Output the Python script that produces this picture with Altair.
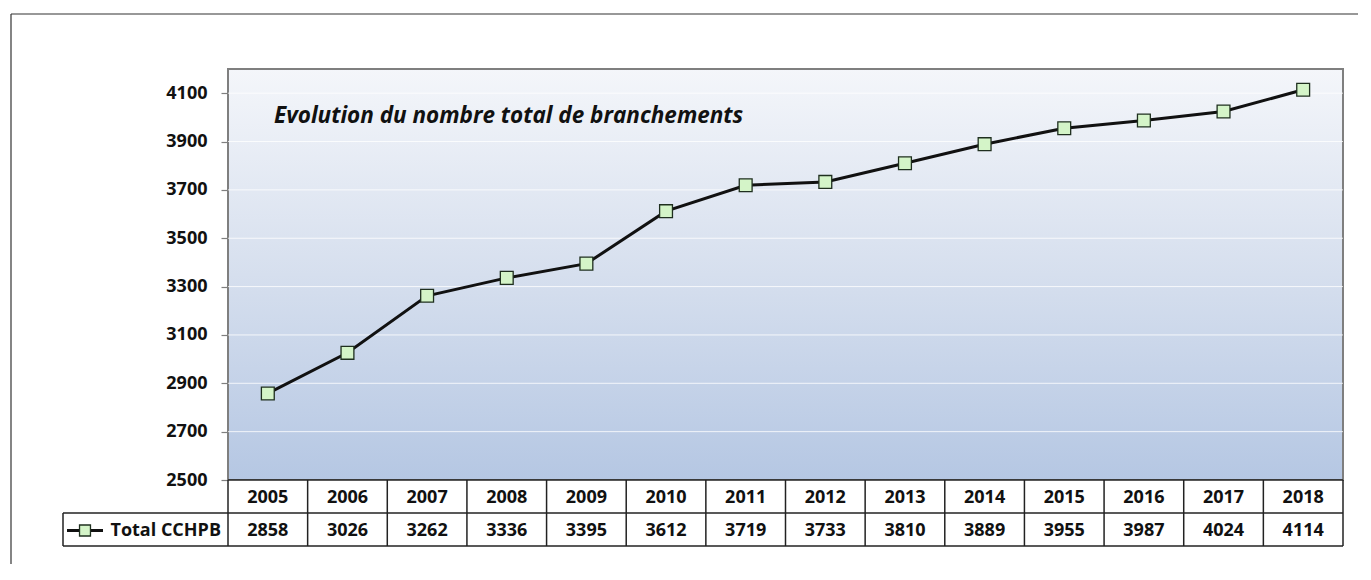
import altair as alt
import pandas as pd

years = list(range(2005, 2019))
values = [2858, 3026, 3262, 3336, 3395, 3612, 3719, 3733, 3810, 3889, 3955, 3987, 4024, 4114]
y_ticks = [2500, 2700, 2900, 3100, 3300, 3500, 3700, 3900, 4100]
series_name = "Total CCHPB"
chart_title = "Evolution du nombre total de branchements"

W, H = 1115, 411
ROW = 33
FONT = "Open Sans"
FS = 18

df = pd.DataFrame({"year": years, "value": values})
bounds = pd.DataFrame({"b": [years[0] - 0.5] + [y + 0.5 for y in years]})
grid = pd.DataFrame({"t": y_ticks[1:]})
one = pd.DataFrame({"a": [0]})

xs = alt.Scale(domain=[years[0] - 0.5, years[-1] + 0.5], nice=False, zero=False)
ys = alt.Scale(domain=[2500, 4200], nice=False, zero=False)
y_axis = alt.Axis(values=y_ticks, title=None, format="d")

gradient = {
    "gradient": "linear", "x1": 0, "y1": 0, "x2": 0, "y2": 1,
    "stops": [
        {"offset": 0, "color": "#f4f6fa"},
        {"offset": 0.5, "color": "#d6dfee"},
        {"offset": 1, "color": "#b5c7e3"},
    ],
}

bg = alt.Chart(pd.DataFrame({"x0": [years[0] - 0.5], "x1": [years[-1] + 0.5],
                             "y0": [2500], "y1": [4200]})).mark_rect(
    fill=gradient, stroke="#7f7f7f", strokeWidth=2
).encode(
    x=alt.X("x0:Q", scale=xs, axis=None),
    x2="x1",
    y=alt.Y("y0:Q", scale=ys, axis=y_axis),
    y2="y1",
)

gridlines = alt.Chart(grid).mark_rule(color="#ffffff", strokeWidth=1, opacity=0.8).encode(
    y=alt.Y("t:Q", scale=ys, axis=y_axis)
)

line = alt.Chart(df).mark_line(color="#111111", strokeWidth=3).encode(
    x=alt.X("year:Q", scale=xs, axis=None),
    y=alt.Y("value:Q", scale=ys, axis=y_axis),
)

points = alt.Chart(df).mark_point(
    shape="square", filled=True, fill="#d4f4c8", stroke="#1f2f1f",
    strokeWidth=1.3, size=165, opacity=1
).encode(
    x=alt.X("year:Q", scale=xs, axis=None),
    y=alt.Y("value:Q", scale=ys, axis=y_axis),
)

title = alt.Chart(one).mark_text(
    text=chart_title, font=FONT, fontSize=22.5, fontStyle="italic", fontWeight="bold",
    align="left", baseline="middle", color="#111111"
).encode(x=alt.value(46), y=alt.value(47))

# Data table below the plot
table_bg = alt.Chart(one).mark_rect(fill="white").encode(
    x=alt.value(0), x2=alt.value(W), y=alt.value(H), y2=alt.value(H + 2 * ROW)
)
year_text = alt.Chart(df).mark_text(
    font=FONT, fontSize=FS, fontWeight="bold", color="#111111", baseline="middle"
).encode(
    x=alt.X("year:Q", scale=xs, axis=None), y=alt.value(H + ROW / 2 + 1), text="year:N"
)
value_text = alt.Chart(df).mark_text(
    font=FONT, fontSize=FS, fontWeight="bold", color="#111111", baseline="middle"
).encode(
    x=alt.X("year:Q", scale=xs, axis=None), y=alt.value(H + ROW * 1.5 + 1), text="value:N"
)
vlines = alt.Chart(bounds).mark_rule(color="#222222", strokeWidth=1.5).encode(
    x=alt.X("b:Q", scale=xs, axis=None), y=alt.value(H), y2=alt.value(H + 2 * ROW)
)
h_top = alt.Chart(one).mark_rule(color="#222222", strokeWidth=1.5).encode(
    x=alt.value(0), x2=alt.value(W), y=alt.value(H)
)
h_mid = alt.Chart(one).mark_rule(color="#222222", strokeWidth=1.5).encode(
    x=alt.value(-165), x2=alt.value(W), y=alt.value(H + ROW)
)
h_bot = alt.Chart(one).mark_rule(color="#222222", strokeWidth=1.5).encode(
    x=alt.value(-165), x2=alt.value(W), y=alt.value(H + 2 * ROW)
)
v_leg = alt.Chart(one).mark_rule(color="#222222", strokeWidth=1.5).encode(
    x=alt.value(-165), y=alt.value(H + ROW), y2=alt.value(H + 2 * ROW)
)
leg_line = alt.Chart(one).mark_rule(color="#111111", strokeWidth=3).encode(
    x=alt.value(-161), x2=alt.value(-125), y=alt.value(H + ROW * 1.5 + 1)
)
leg_pt = alt.Chart(one).mark_point(
    shape="square", filled=True, fill="#d4f4c8", stroke="#1f2f1f",
    strokeWidth=1.3, size=120, opacity=1
).encode(x=alt.value(-143), y=alt.value(H + ROW * 1.5 + 1))
leg_text = alt.Chart(one).mark_text(
    text=series_name, font=FONT, fontSize=FS, fontWeight="bold", color="#111111",
    align="right", baseline="middle"
).encode(x=alt.value(-7), y=alt.value(H + ROW * 1.5 + 1))

# outer frame: only its top and left edges fall inside the picture
frame_top = alt.Chart(one).mark_rule(color="#333333", strokeWidth=1.2).encode(
    x=alt.value(-217), x2=alt.value(W + 15), y=alt.value(-55)
)
frame_left = alt.Chart(one).mark_rule(color="#333333", strokeWidth=1.2).encode(
    x=alt.value(-217), y=alt.value(-55), y2=alt.value(H + 120)
)

chart = alt.layer(
    bg, gridlines, line, points, title,
    table_bg, vlines, h_top, h_mid, h_bot, v_leg,
    year_text, value_text, leg_line, leg_pt, leg_text,
    frame_top, frame_left,
).properties(
    width=W, height=H,
    autosize=alt.AutoSizeParams(type="none"),
    padding={"left": 220, "top": 61, "right": 15, "bottom": 84},
    background="white",
).configure_view(stroke=None).configure_axisY(
    labelFont=FONT, labelFontSize=FS, labelFontWeight="bold", labelColor="#111111",
    tickColor="#7f7f7f", tickSize=7, tickWidth=1.2, labelPadding=14,
    domain=False, grid=False,
)

chart.save("out.html", embed_options={"renderer": "svg", "actions": False})
